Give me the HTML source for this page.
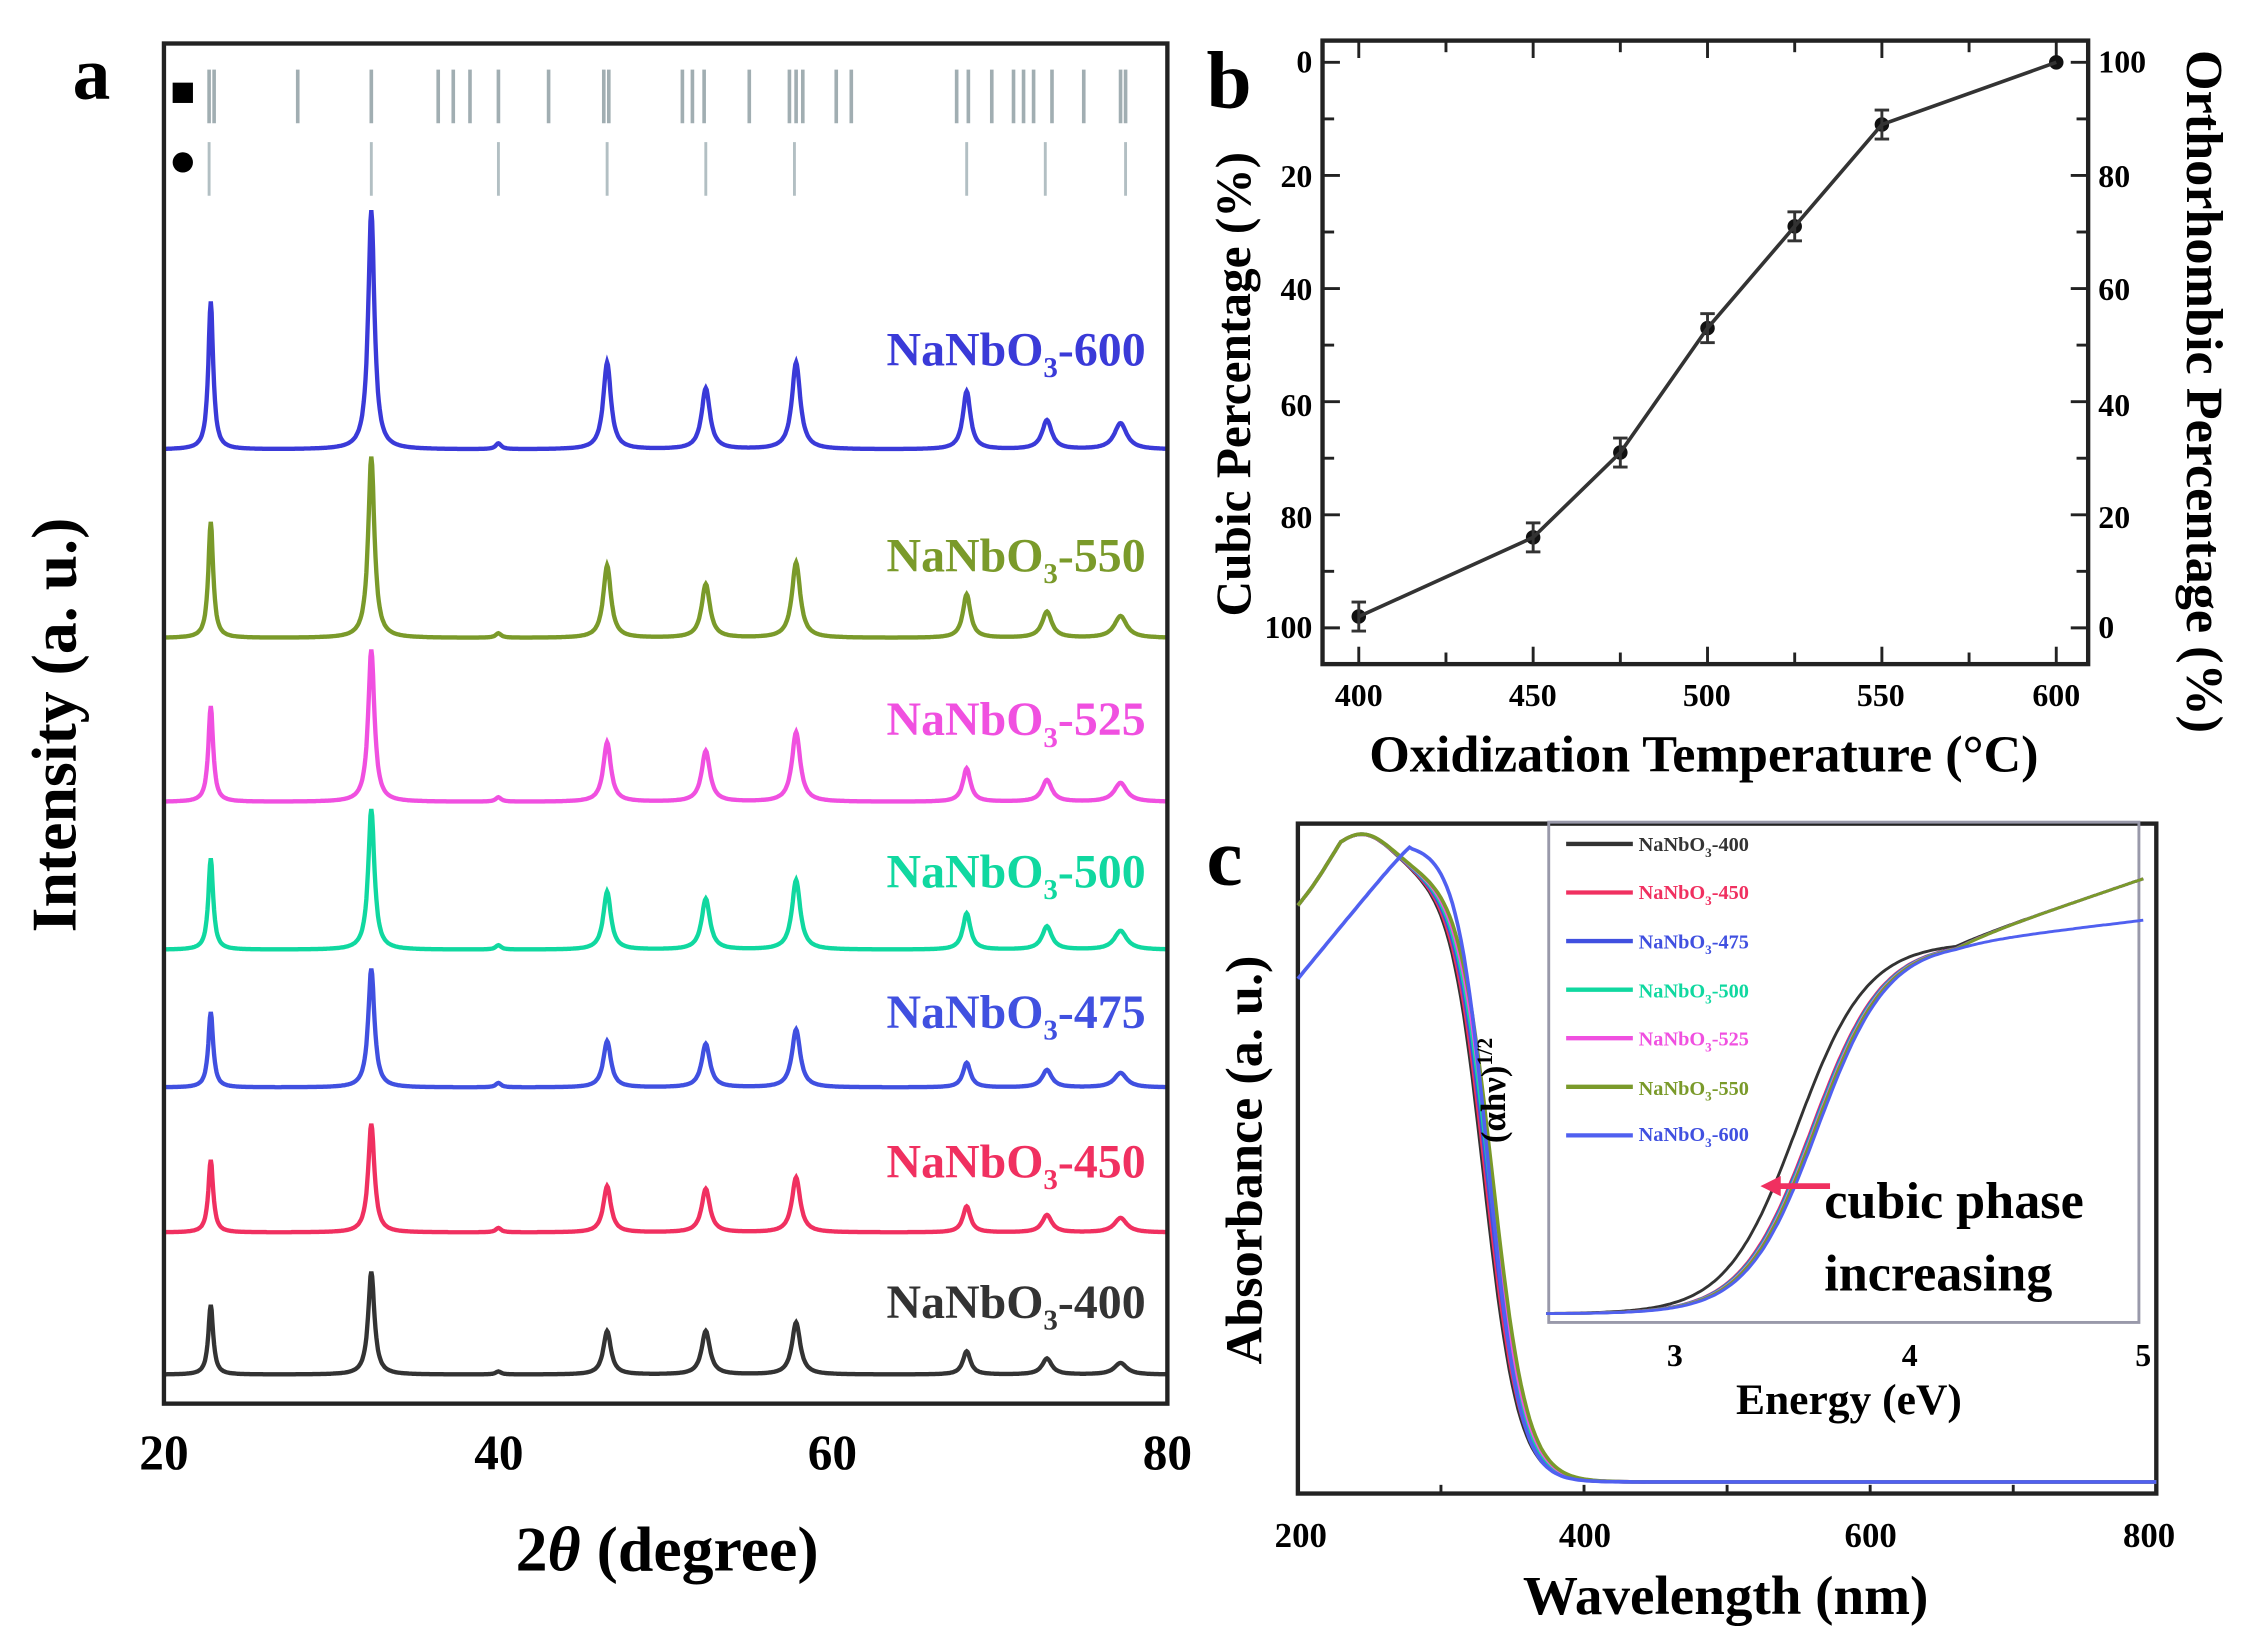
<!DOCTYPE html>
<html><head><meta charset="utf-8"><style>
html,body{margin:0;padding:0;background:#fff}
svg{display:block}
text{font-family:"Liberation Serif",serif;font-weight:bold}
</style></head><body>
<svg id="s" width="2255" height="1640" viewBox="0 0 1555 1131" xmlns="http://www.w3.org/2000/svg">
<rect width="1555" height="1131" fill="#fff"/>
<g id="a"></g>
<!-- panel a -->
<rect x="113" y="30" width="692" height="938" fill="none" stroke="#222" stroke-width="3"/>
<rect x="119" y="57" width="14" height="14" fill="#000"/>
<circle cx="126" cy="112" r="7" fill="#000"/>
<text x="50" y="68" font-size="52" font-weight="normal">a</text>
<g font-size="34" text-anchor="middle">
<text x="113" y="1013">20</text><text x="344" y="1013">40</text><text x="574" y="1013">60</text><text x="805" y="1013">80</text>
</g>
<text x="460" y="1083" font-size="44" text-anchor="middle">2<tspan font-style="italic">θ</tspan> (degree)</text>
<text transform="translate(52,500) rotate(-90)" font-size="44" text-anchor="middle">Intensity (a. u.)</text>
<g font-size="33" text-anchor="end">
<text x="790" y="252" fill="#3a3ad8">NaNbO<tspan font-size="20" dy="8">3</tspan><tspan dy="-8">-600</tspan></text>
<text x="790" y="394" fill="#7a9a2a">NaNbO<tspan font-size="20" dy="8">3</tspan><tspan dy="-8">-550</tspan></text>
<text x="790" y="507" fill="#f050e0">NaNbO<tspan font-size="20" dy="8">3</tspan><tspan dy="-8">-525</tspan></text>
<text x="790" y="612" fill="#10d8a0">NaNbO<tspan font-size="20" dy="8">3</tspan><tspan dy="-8">-500</tspan></text>
<text x="790" y="709" fill="#4050e0">NaNbO<tspan font-size="20" dy="8">3</tspan><tspan dy="-8">-475</tspan></text>
<text x="790" y="812" fill="#f03060">NaNbO<tspan font-size="20" dy="8">3</tspan><tspan dy="-8">-450</tspan></text>
<text x="790" y="909" fill="#333">NaNbO<tspan font-size="20" dy="8">3</tspan><tspan dy="-8">-400</tspan></text>
</g>
<!-- panel b -->
<rect x="912" y="28" width="528" height="430" fill="none" stroke="#222" stroke-width="3"/>
<text x="832" y="74" font-size="56" font-weight="normal">b</text>
<g font-size="22" text-anchor="end">
<text x="905" y="50">0</text><text x="905" y="129">20</text><text x="905" y="207">40</text><text x="905" y="287">60</text><text x="905" y="364">80</text><text x="905" y="440">100</text>
</g>
<g font-size="22" text-anchor="start">
<text x="1447" y="50">100</text><text x="1447" y="129">80</text><text x="1447" y="207">60</text><text x="1447" y="287">40</text><text x="1447" y="364">20</text><text x="1447" y="440">0</text>
</g>
<g font-size="22" text-anchor="middle">
<text x="937" y="487">400</text><text x="1057" y="487">450</text><text x="1177" y="487">500</text><text x="1297" y="487">550</text><text x="1418" y="487">600</text>
</g>
<text x="1175" y="532" font-size="36" text-anchor="middle">Oxidization Temperature (°C)</text>
<text transform="translate(862,265) rotate(-90)" font-size="34" text-anchor="middle">Cubic Percentage (%)</text>
<text transform="translate(1508,270) rotate(90)" font-size="36" text-anchor="middle">Orthorhombic Percentage (%)</text>
<g id="b"></g>
<!-- panel c -->
<rect x="895" y="568" width="592" height="462" fill="none" stroke="#222" stroke-width="3"/>
<text x="832" y="610" font-size="56" font-weight="normal">c</text>
<g font-size="24" text-anchor="middle">
<text x="897" y="1067">200</text><text x="1093" y="1067">400</text><text x="1290" y="1067">600</text><text x="1482" y="1067">800</text>
</g>
<text x="1190" y="1113" font-size="38" text-anchor="middle">Wavelength (nm)</text>
<text transform="translate(870,800) rotate(-90)" font-size="36" text-anchor="middle">Absorbance (a. u.)</text>
<rect x="1068" y="567" width="407" height="345" fill="none" stroke="#99a" stroke-width="2"/>
<g font-size="22" text-anchor="middle">
<text x="1155" y="942">3</text><text x="1317" y="942">4</text><text x="1478" y="942">5</text>
</g>
<text x="1275" y="975" font-size="30" text-anchor="middle">Energy (eV)</text>
<g id="c"></g>
<text transform="translate(1038,752) rotate(-90)" font-size="24" text-anchor="middle">(αhν)<tspan font-size="15" dy="-9">1/2</tspan></text>
<g font-size="14">
<text x="1130" y="587" fill="#333">NaNbO<tspan font-size="9" dy="4">3</tspan><tspan dy="-4">-400</tspan></text>
<text x="1130" y="620" fill="#f03060">NaNbO<tspan font-size="9" dy="4">3</tspan><tspan dy="-4">-450</tspan></text>
<text x="1130" y="654" fill="#4050e0">NaNbO<tspan font-size="9" dy="4">3</tspan><tspan dy="-4">-475</tspan></text>
<text x="1130" y="688" fill="#10d8a0">NaNbO<tspan font-size="9" dy="4">3</tspan><tspan dy="-4">-500</tspan></text>
<text x="1130" y="721" fill="#f050e0">NaNbO<tspan font-size="9" dy="4">3</tspan><tspan dy="-4">-525</tspan></text>
<text x="1130" y="755" fill="#7a9a2a">NaNbO<tspan font-size="9" dy="4">3</tspan><tspan dy="-4">-550</tspan></text>
<text x="1130" y="787" fill="#4050e0">NaNbO<tspan font-size="9" dy="4">3</tspan><tspan dy="-4">-600</tspan></text>
</g>
<text x="1258" y="840" font-size="36">cubic phase</text>
<text x="1258" y="890" font-size="36">increasing</text>
<line x1="1262" y1="818" x2="1222" y2="818" stroke="#f03060" stroke-width="4"/>
<polygon points="1214,818 1228,811 1228,825" fill="#f03060"/>
</svg>
<script>
var NS="http://www.w3.org/2000/svg";
function el(p,t,a){var e=document.createElementNS(NS,t);for(var k in a)e.setAttribute(k,a[k]);document.getElementById(p).appendChild(e);return e;}
function X(d){return 113+(d-20)*692/60;}
var sq=[22.7,23.0,28,32.4,36.4,37.3,38.3,40,43,46.3,46.6,51,51.6,52.3,55,57.4,57.8,58.2,60.2,61.1,67.4,68.1,69.5,70.8,71.4,72,73.1,75,77.2,77.5];
sq.forEach(function(d){el("a","line",{x1:X(d),x2:X(d),y1:48,y2:85,stroke:"#8a9aa0","stroke-width":2.5,opacity:.8});});
var ci=[22.7,32.4,40,46.5,52.4,57.7,68,72.7,77.5];
ci.forEach(function(d){el("a","line",{x1:X(d),x2:X(d),y1:98,y2:135,stroke:"#a0b0b5","stroke-width":2,opacity:.8});});
var pk=[22.8,32.4,46.5,52.4,57.8,68,72.8,77.2,40];
var W=[0.35,0.45,0.55,0.6,0.6,0.55,0.7,0.9,0.4];
var S=[
 {b:310,h:[102,165,60,42,60,40,20,18,4],c:"#3a3ad8"},
 {b:440,h:[80,125,50,37,52,30,18,15,3],c:"#7a9a2a"},
 {b:553,h:[66,105,41,35,48,23,15,13,3],c:"#f050e0"},
 {b:655,h:[63,97,40,35,48,25,16,13,3],c:"#10d8a0"},
 {b:750,h:[52,82,32,30,40,17,12,10,3],c:"#4050e0"},
 {b:850,h:[50,75,32,30,38,18,12,10,3],c:"#f03060"},
 {b:948,h:[48,71,30,30,36,16,11,8,2],c:"#333"}];
S.forEach(function(s){var d="";for(var t=20;t<=80;t+=0.05){var y=s.b;for(var i=0;i<pk.length;i++){var u=(t-pk[i])/W[i];y-=s.h[i]/(1+u*u*4);}d+=(d?"L":"M")+X(t).toFixed(1)+","+y.toFixed(1);}
el("a","path",{d:d,fill:"none",stroke:s.c,"stroke-width":3});});
// panel b
for(var v=400;v<=600;v+=25){var x=937+(v-400)*481/200;el("b","line",{x1:x,x2:x,y1:458,y2:(v%50?450:446),stroke:"#222","stroke-width":2});el("b","line",{x1:x,x2:x,y1:28,y2:(v%50?36:40),stroke:"#222","stroke-width":2});}
for(var p=0;p<=100;p+=10){var y=43+p*3.9;el("b","line",{x1:912,x2:(p%20?920:924),y1:y,y2:y,stroke:"#222","stroke-width":2});el("b","line",{x1:1440,x2:(p%20?1432:1428),y1:y,y2:y,stroke:"#222","stroke-width":2});}
var bd=[[400,98],[450,84],[475,69],[500,47],[525,29],[550,11],[600,0]];var d="";
bd.forEach(function(q){var x=937+(q[0]-400)*481/200,y=43+q[1]*3.9;d+=(d?"L":"M")+x+","+y;el("b","circle",{cx:x,cy:y,r:5,fill:"#111"});if(q[1]>0&&q[1]<100){el("b","line",{x1:x,x2:x,y1:y-10,y2:y+10,stroke:"#333","stroke-width":2});el("b","line",{x1:x-5,x2:x+5,y1:y-10,y2:y-10,stroke:"#333","stroke-width":2});el("b","line",{x1:x-5,x2:x+5,y1:y+10,y2:y+10,stroke:"#333","stroke-width":2});}});
el("b","path",{d:d,fill:"none",stroke:"#333","stroke-width":2.5});
// panel c
function WX(w){return 895+(w-200)*592/600;}
[300,400,500,600,700].forEach(function(w){el("c","line",{x1:WX(w),x2:WX(w),y1:1030,y2:1024,stroke:"#222","stroke-width":2});});
var cs=["#333","#f03060","#4050e0","#10d8a0","#f050e0","#7a9a2a"];
cs.forEach(function(c,k){var d="";for(var w=200;w<=800;w+=2){var e=330+k*1.2;var drop=1/(1+Math.exp((w-e)/12));var top=600-25*Math.exp(-Math.pow((w-245)/30,2))+(w<230?(230-w)*0.9:0);var y=1022-(1022-top)*drop;d+=(d?"L":"M")+WX(w).toFixed(1)+","+y.toFixed(1);}el("c","path",{d:d,fill:"none",stroke:c,"stroke-width":2.5});});
(function(){var d="";for(var w=200;w<=800;w+=2){var e=333;var drop=1/(1+Math.exp((w-e)/11));var top=w<280?675-(w-200)*1.2:582;var y=1022-(1022-top)*drop;d+=(d?"L":"M")+WX(w).toFixed(1)+","+y.toFixed(1);}el("c","path",{d:d,fill:"none",stroke:"#5060f0","stroke-width":2.5});})();
// inset
function EX(e){return 1155+(e-3)*161.5;}
var ic=["#333","#f03060","#4050e0","#10d8a0","#f050e0","#7a9a2a","#5060f0"];
ic.forEach(function(c,k){var sh=k==0?-0.06:(k==6?0.03:0.02*k/5);var d="";for(var e=2.45;e<=5;e+=0.01){var t=1/(1+Math.exp(-(e-3.58-sh)/0.15));var y=906-(906-650)*t-(e>4.2?(e-4.2)*55:0)*(k==6?0.35:1);d+=(d?"L":"M")+EX(e).toFixed(1)+","+y.toFixed(1);}el("c","path",{d:d,fill:"none",stroke:c,"stroke-width":2});});
ic.forEach(function(c,k){var y=582+k*33.5;el("c","line",{x1:1080,x2:1126,y1:y,y2:y,stroke:c,"stroke-width":3});});
</script>
</body></html>
